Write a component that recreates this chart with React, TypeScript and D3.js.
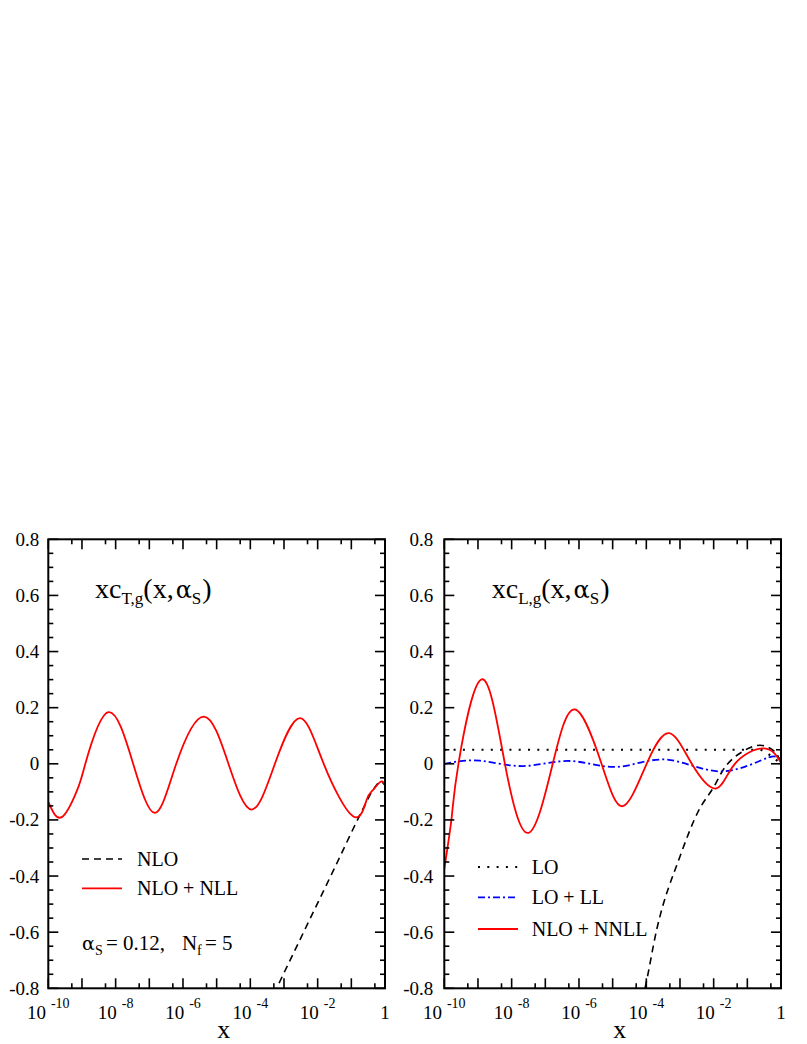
import React from "react";
import * as d3 from "d3";

// ---------- data (log10 x, value) ----------
const tNllLogX = [-10, -9.6, -9.14, -8.9, -8.22, -7.48, -6.83, -6.2, -5.38, -4.65, -3.96, -3.27, -2.53, -1.82, -0.95, -0.55, -0.36, -0.13, 0];
const tNllVal = [-0.136, -0.19, -0.093, 0.0, 0.184, 0.0, -0.175, 0.0, 0.168, 0.0, -0.163, 0.0, 0.163, 0.0, -0.187, -0.13, -0.094, -0.064, -0.076];

const tNloLogX = [-3.3, -3.22, -1.5, -0.65, -0.36, -0.13, 0];
const tNloVal = [-0.82, -0.8, -0.372, -0.16, -0.094, -0.064, -0.076];

const lLoLogX = [-10, -0.8, -0.57, -0.33, 0];
const lLoVal = [0.05, 0.05, 0.049, 0.031, 0.0];

const lLlLogX = [-10, -8.94, -7.65, -6.27, -4.88, -3.4, -1.78, -0.38, 0];
const lLlVal = [0.0, 0.011, -0.008, 0.01, -0.011, 0.015, -0.027, 0.022, 0.005];

const lNnllLogX = [-10, -9.78, -9.58, -8.89, -8.2, -7.5, -6.78, -6.12, -5.33, -4.7, -3.99, -3.32, -2.65, -1.93, -1.37, -0.5, 0];
const lNnllVal = [-0.374, -0.19, 0.0, 0.301, 0.0, -0.246, 0.0, 0.194, 0.0, -0.151, 0.0, 0.109, 0.0, -0.088, 0.0, 0.055, 0.004];

const lNloLogX = [-4.12, -4.04, -3.69, -3.0, -2.46, -1.96, -1.76, -1.12, -0.62, -0.18, 0];
const lNloVal = [-0.84, -0.8, -0.59, -0.33, -0.17, -0.075, -0.03, 0.045, 0.066, 0.043, 0.004];

const xMajorExp = [-10, -9, -8, -7, -6, -5, -4, -3, -2, -1, 0];
const xLabelExp = [-10, -8, -6, -4, -2, 0];
const xMinorExp = [-10, -9, -8, -7, -6, -5, -4, -3, -2, -1];
const yMajor = [-0.8, -0.6, -0.4, -0.2, 0, 0.2, 0.4, 0.6, 0.8];
const yLabels = ["-0.8", "-0.6", "-0.4", "-0.2", "0", "0.2", "0.4", "0.6", "0.8"];

const FONT = "'Liberation Serif', 'Times New Roman', serif";
const GREEK = "'DejaVu Serif', serif";
const TOP = 539.3;
const BOTTOM = 988.3;

type Pt = [number, number];
const zipPts = (lx: number[], v: number[]): Pt[] => lx.map((l, i) => [Math.pow(10, l), v[i]]);

function Panel({ x0, x1, id, children, labelGap }: { x0: number; x1: number; id: string; children: (x: any, y: any) => React.ReactNode; labelGap: number }) {
  const x = d3.scaleLog().domain([1e-10, 1]).range([x0, x1]);
  const y = d3.scaleLinear().domain([-0.8, 0.8]).range([BOTTOM, TOP]);
  const yMinor = d3.range(-0.8, 0.8001, 0.05);
  return (
    <g>
      <defs>
        <clipPath id={id}>
          <rect x={x0} y={TOP} width={x1 - x0} height={BOTTOM - TOP} />
        </clipPath>
      </defs>
      <g clipPath={`url(#${id})`}>{children(x, y)}</g>
      <g stroke="#000" strokeWidth={1.6}>
        {xMajorExp.map((e) => {
          const px = x(Math.pow(10, e));
          return (
            <g key={"xm" + e}>
              <line x1={px} x2={px} y1={BOTTOM} y2={BOTTOM - 10} />
              <line x1={px} x2={px} y1={TOP} y2={TOP + 10} />
            </g>
          );
        })}
        {xMinorExp.map((e) => {
          const px = x(5 * Math.pow(10, e));
          return (
            <g key={"xn" + e}>
              <line x1={px} x2={px} y1={BOTTOM} y2={BOTTOM - 5} />
              <line x1={px} x2={px} y1={TOP} y2={TOP + 5} />
            </g>
          );
        })}
        {yMinor.map((v, i) => {
          const py = y(v);
          const major = i % 4 === 0;
          const len = major ? 10 : 5;
          return (
            <g key={"y" + i}>
              <line x1={x0} x2={x0 + len} y1={py} y2={py} />
              <line x1={x1} x2={x1 - len} y1={py} y2={py} />
            </g>
          );
        })}
      </g>
      <rect x={x0} y={TOP} width={x1 - x0} height={BOTTOM - TOP} fill="none" stroke="#000" strokeWidth={2} />
      <g fontFamily={FONT} fontSize={19} textAnchor="end">
        {yMajor.map((v, i) => (
          <text key={"yl" + i} x={x0 - labelGap} y={y(v) + 6.5}>
            {yLabels[i]}
          </text>
        ))}
      </g>
      <g fontFamily={FONT} fontSize={19} textAnchor="middle">
        {xLabelExp.map((e) => (
          <text key={"xl" + e} x={x(Math.pow(10, e))} y={1019}>
            {e === 0 ? (
              "1"
            ) : (
              <>
                <tspan>10</tspan>
                <tspan fontSize={14} dx={5} dy={-11}>
                  {String(e)}
                </tspan>
              </>
            )}
          </text>
        ))}
      </g>
      <text x={(x0 + x1) / 2 + 7} y={1038} fontFamily={FONT} fontSize={26} textAnchor="middle">
        x
      </text>
    </g>
  );
}

function Title({ x, sub }: { x: number; sub: string }) {
  return (
    <text x={x} y={598} fontFamily={FONT} fontSize={28}>
      <tspan>xc</tspan>
      <tspan fontSize={17} dy={6}>{sub}</tspan>
      <tspan dy={-6}>(x,</tspan>
      <tspan dx={2} fontFamily={GREEK} fontSize={24}>α</tspan>
      <tspan fontSize={17} dy={6}>S</tspan>
      <tspan dy={-6} dx={1}>)</tspan>
    </text>
  );
}

export default function App() {
  const lineGen = (x: any, y: any, curve: any) =>
    d3
      .line<Pt>()
      .x((d) => x(d[0]))
      .y((d) => y(d[1]))
      .curve(curve);

  return (
    <svg width={807} height={1044} style={{ position: "absolute", left: 0, top: 0, background: "#fff" }}>
      <rect x={0} y={0} width={807} height={1044} fill="#fff" />
      <Panel x0={48.3} x1={385} id="clipL" labelGap={9}>
        {(x, y) => (
          <>
            <path d={lineGen(x, y, d3.curveMonotoneX)(zipPts(tNloLogX, tNloVal)) || ""} fill="none" stroke="#000" strokeWidth={1.6} strokeDasharray="7,5" />
            <path d={lineGen(x, y, d3.curveNatural)(zipPts(tNllLogX, tNllVal)) || ""} fill="none" stroke="#ff0000" strokeWidth={1.8} />
          </>
        )}
      </Panel>
      <Panel x0={444.3} x1={781} id="clipR" labelGap={11}>
        {(x, y) => (
          <>
            <path d={lineGen(x, y, d3.curveMonotoneX)(zipPts(lNloLogX, lNloVal)) || ""} fill="none" stroke="#000" strokeWidth={1.6} strokeDasharray="7,5" />
            <path d={lineGen(x, y, d3.curveMonotoneX)(zipPts(lLoLogX, lLoVal)) || ""} fill="none" stroke="#000" strokeWidth={2.2} strokeDasharray="2,7.3" />
            <path d={lineGen(x, y, d3.curveNatural)(zipPts(lLlLogX, lLlVal)) || ""} fill="none" stroke="#0000ff" strokeWidth={1.8} strokeDasharray="7,3,2,3" />
            <path d={lineGen(x, y, d3.curveNatural)(zipPts(lNnllLogX, lNnllVal)) || ""} fill="none" stroke="#ff0000" strokeWidth={1.8} />
          </>
        )}
      </Panel>

      <Title x={95} sub="T,g" />
      <Title x={491.7} sub="L,g" />

      {/* left legend */}
      <g fontFamily={FONT} fontSize={20}>
        <line x1={82} x2={122} y1={859} y2={859} stroke="#000" strokeWidth={1.6} strokeDasharray="7,5" />
        <text x={137} y={865.5}>NLO</text>
        <line x1={82} x2={122} y1={888.3} y2={888.3} stroke="#ff0000" strokeWidth={1.8} />
        <text x={137} y={895}>NLO + NLL</text>
        <text y={950} fontSize={21}>
          <tspan x={82} fontFamily={GREEK} fontSize={19}>α</tspan>
          <tspan x={95} fontSize={14} dy={5}>S</tspan>
          <tspan x={106} dy={-5}>= 0.12,</tspan>
          <tspan x={182}>N</tspan>
          <tspan x={197} fontSize={14} dy={5}>f</tspan>
          <tspan x={205} dy={-5}>= 5</tspan>
        </text>
      </g>

      {/* right legend */}
      <g fontFamily={FONT} fontSize={20}>
        <line x1={478} x2={518} y1={867} y2={867} stroke="#000" strokeWidth={2.2} strokeDasharray="2,7.3" />
        <text x={531.7} y={874}>LO</text>
        <line x1={478} x2={518} y1={897.3} y2={897.3} stroke="#0000ff" strokeWidth={1.8} strokeDasharray="7,3,2,3" />
        <text x={531.7} y={904}>LO + LL</text>
        <line x1={478} x2={518} y1={929} y2={929} stroke="#ff0000" strokeWidth={1.8} />
        <text x={531.7} y={936}>NLO + NNLL</text>
      </g>
    </svg>
  );
}
